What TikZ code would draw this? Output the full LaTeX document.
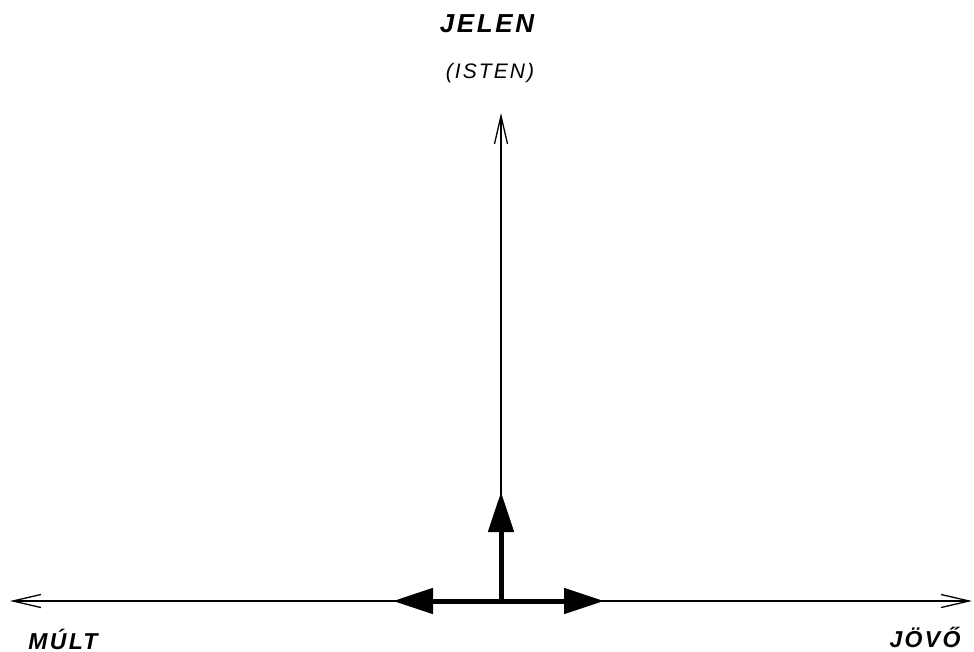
\documentclass[tikz,border=0pt]{standalone}
\usepackage{fontspec}
\setmainfont{Liberation Sans}
\usetikzlibrary{arrows.meta}
\newfontfamily\handfont[LetterSpace=10]{Liberation Sans}
\begin{document}
\begin{tikzpicture}[x=1pt,y=-1pt,
  thinline/.style={line width=1.3pt,-{Straight Barb[length=28pt,width=13pt,line width=1.3pt]}},
  thickline/.style={line width=5pt,-{Triangle[length=40pt,width=25pt]}},
  lbl/.style={inner sep=0pt,font=\handfont\bfseries\itshape}]
\useasboundingbox (0,0) rectangle (974,652);
\coordinate (O) at (501,601);
\coordinate (L) at (10,601);
\coordinate (R) at (972,601);
\coordinate (T) at (501,113);
\coordinate (TL) at (393,601);
\coordinate (TR) at (604,601);
\coordinate (TT) at (501,492);
\draw[thinline] (O) -- (L);
\draw[thinline] (O) -- (R);
\draw[thinline] (O) -- (T);
\draw[thickline] ([yshift=-2pt]O) -- (TT);
\draw[thickline] ([xshift=2pt]O) -- (TL);
\draw[thickline] ([xshift=-2pt]O) -- (TR);
\node[lbl,font=\handfont\bfseries\itshape\fontsize{26}{26}\selectfont] (jelen) at (487,24) {JELEN};
\node[lbl,font=\handfont\itshape\fontsize{21}{21}\selectfont] (isten) at (490,73) {(ISTEN)};
\node[lbl,font=\handfont\bfseries\itshape\fontsize{23}{23}\selectfont] (mult) at (63,639) {MÚLT};
\node[lbl,font=\handfont\bfseries\itshape\fontsize{23}{23}\selectfont] (jovo) at (925,637) {JÖVŐ};
\end{tikzpicture}
\end{document}
